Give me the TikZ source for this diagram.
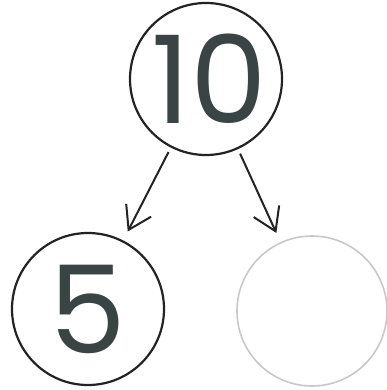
\documentclass[tikz,border=0pt]{standalone}
\usepackage{fontspec}
\setmainfont{Poppins}
\usepackage{xcolor}
\definecolor{numgray}{RGB}{58, 68, 68}
\definecolor{ringdark}{RGB}{35, 35, 35}
\definecolor{ringlight}{RGB}{200, 200, 200}
\usetikzlibrary{arrows.meta}

\begin{document}
\begin{tikzpicture}[x=1pt, y=-1pt,
    bond/.style={circle, draw=ringdark, line width=2.2pt, minimum size=152pt, inner sep=0pt,
        text=numgray, font=\fontsize{122}{122}\selectfont},
    blank/.style={circle, draw=ringlight, line width=1.6pt, minimum size=150pt, inner sep=0pt},
    split/.style={-{Straight Barb[length=22pt, width=28pt, line width=2pt]}, line width=2pt, draw=ringdark,
        shorten >=10pt, shorten <=5pt}]
    \useasboundingbox (0, 0) rectangle (387, 390);

    % Whole
    \node[bond] (whole) at (206, 79) {\hspace*{6pt}10};

    % Parts
    \node[bond] (partA) at (88, 309) {5};
    \node[blank] (partB) at (312, 311) {};

    % Split arrows
    \draw[split] (whole) -- (partA);
    \draw[split] (whole) -- (partB);
\end{tikzpicture}
\end{document}
